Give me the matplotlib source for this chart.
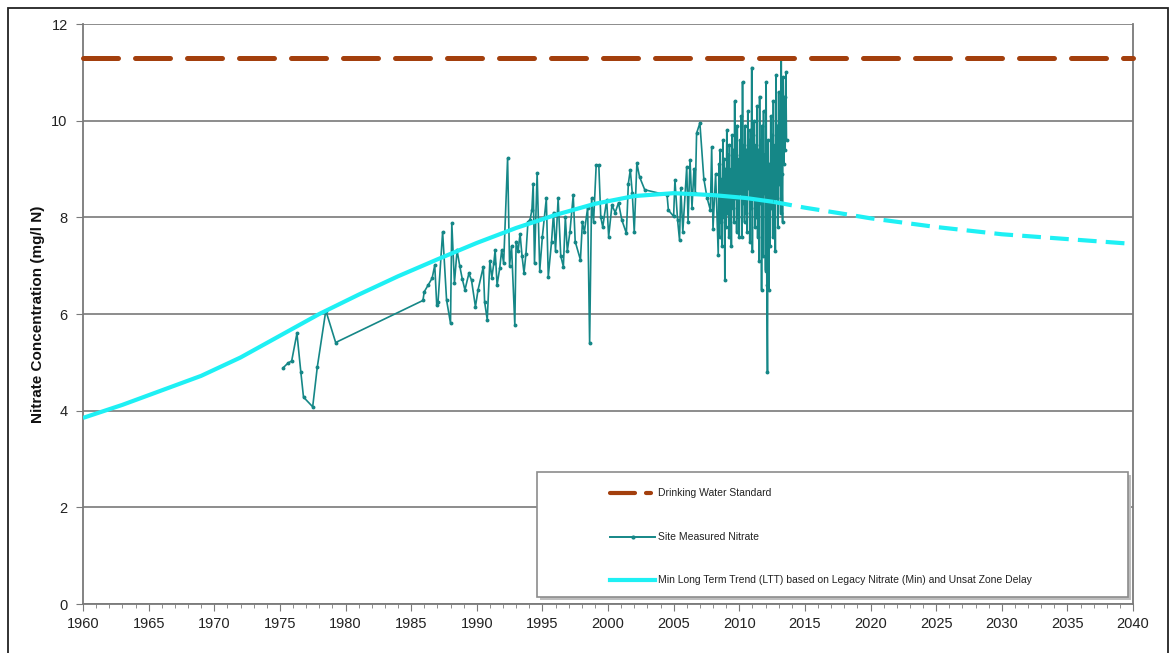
import numpy as np
import matplotlib
matplotlib.use("Agg")
import matplotlib.pyplot as plt
from matplotlib.patches import Rectangle
from matplotlib.lines import Line2D

plt.rcParams["font.family"] = ["Liberation Sans", "DejaVu Sans"]

#--------------------------------------------------------------------------------------------------#Data#----------------------------------------------------------#

# Drinking water standard (mg/l N)
dws_years = [1960, 2040]
dws_value = [11.3, 11.3]

# Min long term trend, solid part (hindcast) and dashed part (forecast)
ltt_years = [1960, 1963, 1966, 1969, 1972, 1975, 1978, 1981, 1984, 1987, 1990,
             1993, 1996, 1999, 2002, 2005, 2008, 2010.5, 2012.6]
ltt_values = [3.85, 4.12, 4.42, 4.72, 5.1, 5.55, 6.0, 6.4, 6.78, 7.13, 7.47,
              7.78, 8.05, 8.28, 8.44, 8.5, 8.46, 8.4, 8.32]

ltt_fc_years = [2012.6, 2015, 2018, 2020, 2025, 2030, 2035, 2040]
ltt_fc_values = [8.32, 8.2, 8.07, 7.98, 7.8, 7.65, 7.55, 7.45]

# Site measured nitrate (year, mg/l N)
meas_early = [
    (1975.26, 4.89), (1975.6, 4.98), (1975.9, 5.03), (1976.3, 5.60), (1976.6, 4.79),
    (1976.8, 4.28), (1977.5, 4.08), (1977.85, 4.90), (1978.5, 6.07), (1979.25, 5.41),
    (1985.9, 6.28), (1986.0, 6.46),
]

meas_mid = [
    (1986.3, 6.6), (1986.6, 6.74), (1986.8, 7.01), (1986.95, 6.19), (1987.05, 6.25),
    (1987.4, 7.70), (1987.7, 6.29), (1988.0, 5.81), (1988.1, 7.88), (1988.3, 6.64),
    (1988.5, 7.32), (1988.7, 7.0), (1988.9, 6.72), (1989.1, 6.5), (1989.4, 6.84),
    (1989.6, 6.7), (1989.9, 6.15), (1990.1, 6.5), (1990.5, 6.98), (1990.6, 6.25),
    (1990.8, 5.88), (1991.0, 7.1), (1991.15, 6.75), (1991.3, 7.05), (1991.4, 7.32),
    (1991.55, 6.6), (1991.75, 6.95), (1991.9, 7.32), (1992.05, 7.05), (1992.35, 9.22),
    (1992.5, 7.0), (1992.65, 7.4), (1992.9, 5.77), (1993.0, 7.5), (1993.15, 7.3),
    (1993.3, 7.66), (1993.45, 7.2), (1993.6, 6.85), (1993.75, 7.25), (1993.9, 7.9),
    (1994.06, 7.95), (1994.2, 8.15), (1994.3, 8.70), (1994.4, 7.05), (1994.6, 8.91),
    (1994.8, 6.9), (1995.0, 7.6), (1995.3, 8.39), (1995.45, 6.77), (1995.7, 7.5),
    (1995.85, 8.1), (1996.0, 7.3), (1996.2, 8.39), (1996.4, 7.2), (1996.6, 6.98),
    (1996.75, 8.0), (1996.9, 7.3), (1997.1, 7.7), (1997.35, 8.46), (1997.5, 7.5),
    (1997.9, 7.12), (1998.05, 7.9), (1998.2, 7.7), (1998.45, 8.2), (1998.6, 5.39),
    (1998.75, 8.4), (1998.9, 7.9), (1999.1, 9.08), (1999.3, 9.08), (1999.45, 8.0),
    (1999.6, 7.8), (1999.9, 8.36), (2000.05, 7.6), (2000.3, 8.25), (2000.55, 8.1),
    (2000.8, 8.3), (2001.05, 7.95), (2001.4, 7.67), (2001.55, 8.70), (2001.7, 8.98),
    (2001.85, 8.5), (2002.0, 7.7), (2002.2, 9.12), (2002.4, 8.84), (2002.8, 8.57),
    (2004.5, 8.46), (2004.6, 8.15), (2005.0, 8.02), (2005.1, 8.77), (2005.3, 7.95),
    (2005.45, 7.53), (2005.55, 8.6), (2005.7, 7.7), (2006.0, 9.05), (2006.1, 7.9),
    (2006.25, 9.19), (2006.4, 8.2), (2006.55, 9.0), (2006.65, 8.5), (2006.75, 9.74),
    (2007.0, 9.95), (2007.3, 8.8), (2007.55, 8.4), (2007.8, 8.15), (2007.9, 9.46),
    (2008.0, 7.76), (2008.2, 8.9), (2008.4, 7.22),
]

meas_late = [
    (2008.45, 9.1), (2008.5, 7.6), (2008.55, 9.4), (2008.6, 7.9), (2008.65, 8.8),
    (2008.7, 7.4), (2008.75, 9.6), (2008.8, 8.0), (2008.85, 9.2), (2008.9, 6.7),
    (2008.95, 9.0), (2009.0, 7.8), (2009.05, 9.8), (2009.1, 8.1), (2009.15, 9.3),
    (2009.2, 7.6), (2009.25, 9.5), (2009.3, 8.3), (2009.35, 9.0), (2009.4, 7.4),
    (2009.45, 9.7), (2009.5, 8.2), (2009.55, 9.4), (2009.6, 7.9), (2009.65, 10.4),
    (2009.7, 8.4), (2009.75, 9.3), (2009.8, 7.7), (2009.85, 9.9), (2009.9, 8.0),
    (2009.95, 9.2), (2010.0, 7.6), (2010.05, 9.6), (2010.1, 8.5), (2010.15, 10.1),
    (2010.2, 7.6), (2010.25, 10.8), (2010.3, 8.3), (2010.35, 9.5), (2010.4, 7.9),
    (2010.45, 9.9), (2010.5, 8.1), (2010.55, 9.4), (2010.6, 7.7), (2010.65, 10.2),
    (2010.7, 8.6), (2010.75, 9.6), (2010.8, 7.5), (2010.85, 9.8), (2010.9, 8.2),
    (2010.95, 11.1), (2011.0, 7.3), (2011.05, 9.7), (2011.1, 8.4), (2011.15, 10.0),
    (2011.2, 7.8), (2011.25, 9.5), (2011.3, 8.0), (2011.35, 10.3), (2011.4, 7.6),
    (2011.45, 9.4), (2011.5, 7.1), (2011.55, 10.5), (2011.6, 8.3), (2011.65, 9.6),
    (2011.7, 6.5), (2011.75, 9.9), (2011.8, 7.2), (2011.85, 10.2), (2011.9, 8.5),
    (2011.95, 9.3), (2012.0, 6.9), (2012.05, 10.8), (2012.1, 6.6), (2012.15, 4.8),
    (2012.2, 9.6), (2012.25, 6.5), (2012.3, 9.1), (2012.35, 7.4), (2012.4, 10.1),
    (2012.45, 8.2), (2012.5, 9.7), (2012.55, 7.6), (2012.6, 10.4), (2012.65, 8.0),
    (2012.7, 9.5), (2012.75, 7.3), (2012.8, 10.95), (2012.85, 8.4), (2012.9, 9.9),
    (2012.95, 7.8), (2013.0, 10.6), (2013.05, 8.7), (2013.1, 10.2), (2013.15, 8.1),
    (2013.2, 11.3), (2013.25, 8.9), (2013.3, 7.9), (2013.35, 10.9), (2013.4, 9.1),
    (2013.45, 10.5), (2013.5, 9.4), (2013.55, 11.0), (2013.6, 9.6),
]

y_label = "Nitrate Concentration (mg/l N)"
legend_labels = [
    "Drinking Water Standard",
    "Site Measured Nitrate",
    "Min Long Term Trend (LTT) based on Legacy Nitrate (Min) and Unsat Zone Delay",
]

#--------------------------------------------------------------------------------------------------#Plot#----------------------------------------------------------#

c_dws = "#a33f0d"
c_meas = "#158787"
c_ltt = "#1ef0f4"
c_grid = "#8c8c8c"

fig = plt.figure(figsize=(11.76, 6.53), dpi=100)
ax = fig.add_axes([83 / 1176, 1 - 604 / 653, 1050 / 1176, 580 / 653])

meas_years, meas_values = zip(*(meas_early + meas_mid + meas_late))
ax.plot(meas_years, meas_values, color=c_meas, lw=1.2, marker="o", ms=1.8, zorder=3)

ax.plot(ltt_years, ltt_values, color=c_ltt, lw=3, solid_capstyle="butt", zorder=4)
ax.plot(ltt_fc_years, ltt_fc_values, color=c_ltt, lw=3, dashes=(4.5, 2.2), zorder=4)

ax.plot(dws_years, dws_value, color=c_dws, lw=3.6, dashes=(7.0, 3.4), dash_capstyle="round",
        zorder=5, clip_on=False)

ax.set_xlim(1960, 2040)
ax.set_ylim(0, 12)
ax.set_xticks(np.arange(1960, 2041, 5))
ax.set_xticks(np.arange(1960, 2041, 1), minor=True)
ax.set_yticks(np.arange(0, 13, 2))

ax.yaxis.grid(True, color=c_grid, lw=1.4)
ax.set_axisbelow(True)
ax.spines["top"].set_visible(False)
for s in ["left", "bottom", "right"]:
    ax.spines[s].set_color("#7a7a7a")
    ax.spines[s].set_linewidth(1.3)

ax.tick_params(axis="both", which="major", direction="out", length=5, color="#7a7a7a",
               labelsize=10.5, labelcolor="#222222", pad=4)
ax.tick_params(axis="x", which="minor", direction="out", length=3, color="#7a7a7a")
ax.tick_params(axis="y", which="major", pad=6)

ax.set_ylabel(y_label, fontsize=11, fontweight="bold", color="#111111")
ax.yaxis.set_label_coords(-38 / 1050, 0.5)

# Legend box drawn by hand (Excel style with shadow)
lx0, lx1 = (537 - 83) / 1050, (1128 - 83) / 1050
ly0, ly1 = (604 - 597) / 580, (604 - 472) / 580
ax.add_patch(Rectangle((lx0 + 0.003, ly0 - 0.005), lx1 - lx0, ly1 - ly0, transform=ax.transAxes,
                       facecolor="#bdbdbd", edgecolor="none", zorder=6))
ax.add_patch(Rectangle((lx0, ly0), lx1 - lx0, ly1 - ly0, transform=ax.transAxes,
                       facecolor="white", edgecolor="#8c8c8c", lw=1.2, zorder=7))

hx0, hx1 = (610 - 83) / 1050, (655 - 83) / 1050
tx = (658 - 83) / 1050
rows = [(604 - 493) / 580, (604 - 537) / 580, (604 - 580) / 580]

ax.add_line(Line2D([hx0, hx0 + 0.024], [rows[0]] * 2, transform=ax.transAxes, color=c_dws,
                   lw=3, solid_capstyle="round", zorder=8))
ax.add_line(Line2D([hx0 + 0.034, hx0 + 0.039], [rows[0]] * 2, transform=ax.transAxes, color=c_dws,
                   lw=3, solid_capstyle="round", zorder=8))
ax.add_line(Line2D([hx0, hx1], [rows[1]] * 2, transform=ax.transAxes, color=c_meas, lw=1.4,
                   zorder=8))
ax.add_line(Line2D([(hx0 + hx1) / 2], [rows[1]], transform=ax.transAxes, color=c_meas,
                   marker="o", ms=2, zorder=8))
ax.add_line(Line2D([hx0, hx1], [rows[2]] * 2, transform=ax.transAxes, color=c_ltt, lw=3,
                   zorder=8))

for row, label in zip(rows, legend_labels):
    ax.text(tx, row, label, transform=ax.transAxes, fontsize=7.5, va="center", ha="left",
            color="#222222", zorder=9)

# Outer chart border
fig.patches.append(Rectangle((8 / 1176, -0.02), 1160 / 1176, 1 - 8 / 653 + 0.02,
                             transform=fig.transFigure, fill=False, edgecolor="#222222", lw=1.3))

fig.savefig("out.png", dpi=100)
